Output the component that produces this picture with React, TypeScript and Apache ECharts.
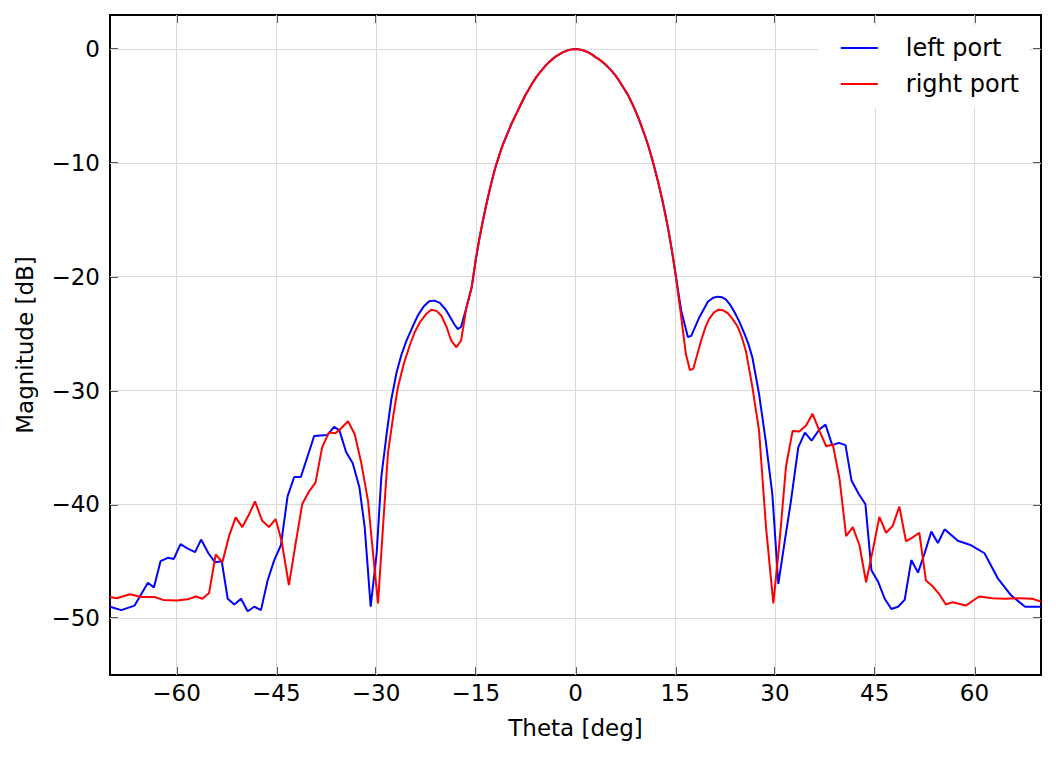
import React, { useEffect, useRef } from "react";
import * as echarts from "echarts";

const X_TICKS = [-60, -45, -30, -15, 0, 15, 30, 45, 60];
const Y_TICKS = [-50, -40, -30, -20, -10, 0];

// Main lobe (shared by both ports)
const MAIN_THETA = [
  -15, -14.5, -14, -13.5, -13, -12.5, -12, -11.5, -11, -10.5, -10, -9.5, -9, -8.5, -8, -7.5, -7, -6.5, -6, -5.5,
  -5, -4.5, -4, -3.5, -3, -2.5, -2, -1.5, -1, -0.5, 0, 0.5, 1, 1.5, 2, 2.5, 3, 3.5, 4, 4.5, 5, 5.5, 6, 6.5, 7,
  7.5, 8, 8.5, 9, 9.5, 10, 10.5, 11, 11.5, 12, 12.5, 13, 13.5, 14, 14.5, 15,
];
const MAIN_DB = [
  -18.5, -16.8, -15.3, -13.9, -12.6, -11.4, -10.3, -9.4, -8.5, -7.8, -7.1, -6.4, -5.8, -5.2, -4.6, -4.0, -3.5, -3.0,
  -2.55, -2.15, -1.8, -1.45, -1.15, -0.9, -0.65, -0.48, -0.3, -0.18, -0.08, -0.02, 0, -0.02, -0.08, -0.18, -0.3,
  -0.48, -0.7, -0.88, -1.1, -1.35, -1.65, -1.95, -2.3, -2.72, -3.2, -3.65, -4.15, -4.75, -5.4, -6.1, -6.9, -7.7,
  -8.6, -9.6, -10.7, -11.85, -13.1, -14.5, -16.0, -17.7, -19.6,
];

// left port side lobes (theta < -15 and theta > 15)
const LEFT_THETA_NEG = [
  -70, -68.3, -66.3, -64.3, -63.4, -62.4, -61.3, -60.4, -59.4, -58.3, -57.2, -56.3, -55.2, -54.2, -53.2,
  -52.3, -51.3, -50.3, -49.3, -48.3, -47.3, -46.3, -45.3, -44.3, -43.3, -42.3, -41.3, -39.3, -37.3, -36.3,
  -35.5, -34.5, -33.5, -32.5, -31.7, -30.8, -29.9, -29.2, -28.4, -27.7, -26.9, -26.2, -25.4, -24.5, -23.7,
  -22.8, -22.0, -21.2, -20.4, -19.5, -18.7, -18.2, -17.7, -17.2, -16.4, -15.6,
];
const LEFT_DB_NEG = [
  -49.0, -49.3, -48.9, -46.9, -47.3, -45.0, -44.7, -44.8, -43.5, -43.9, -44.2, -43.1, -44.3, -45.1, -45.0,
  -48.3, -48.8, -48.3, -49.4, -49.0, -49.3, -46.7, -44.9, -43.6, -39.3, -37.6, -37.6, -34.0, -33.9, -33.2,
  -33.5, -35.4, -36.4, -38.5, -42.0, -49.0, -44.3, -37.6, -33.8, -30.8, -28.4, -26.9, -25.6, -24.4, -23.4,
  -22.6, -22.15, -22.1, -22.3, -22.9, -23.7, -24.2, -24.6, -24.4, -22.7, -20.9,
];
const LEFT_THETA_POS = [
  15.9, 16.9, 17.4, 18.6, 19.9, 20.7, 21.4, 22.0, 22.6, 23.3, 23.9, 24.6, 25.4, 26.0, 26.6, 27.6, 28.6,
  29.6, 30.5, 31.4, 32.4, 33.5, 34.5, 35.5, 36.7, 37.6, 38.6, 39.6, 40.6, 41.5, 42.6, 43.6, 44.5, 45.5,
  46.5, 47.5, 48.5, 49.5, 50.5, 51.5, 52.5, 53.5, 54.5, 55.5, 56.5, 57.5, 59.5, 61.5, 63.5, 65.5, 67.6, 70,
];
const LEFT_DB_POS = [
  -23.0, -25.3, -25.2, -23.6, -22.2, -21.85, -21.75, -21.8, -22.0, -22.5, -23.1, -23.9, -25.0, -25.9, -27.1, -30.3, -34.4,
  -39.1, -47.0, -43.5, -39.7, -35.0, -33.7, -34.4, -33.4, -33.0, -34.8, -34.6, -34.8, -37.9, -39.1, -40.0, -45.8, -46.8,
  -48.3, -49.2, -49.0, -48.4, -44.9, -46.0, -44.3, -42.4, -43.4, -42.2, -42.7, -43.2, -43.6, -44.3, -46.5, -48.0, -49.0, -49.0,
];

// right port side lobes
const RIGHT_THETA_NEG = [
  -70, -69, -67, -65.3, -63.3, -62, -60, -58.3, -57.1, -56.1, -55.1, -54.1, -53.1, -52.1, -51.1, -50.1,
  -49.1, -48.2, -47.1, -46.1, -45.1, -44.2, -43.1, -42.1, -41.1, -40.1, -39.1, -38.1, -37.1, -36.1, -35.2,
  -34.2, -33.2, -32.2, -31.2, -30.45, -29.7, -28.95, -28.2, -27.4, -26.7, -25.8, -24.9, -24.2, -23.4, -22.5,
  -21.7, -20.9, -20.2, -19.4, -18.7, -17.9, -17.2, -16.4, -15.6,
];
const RIGHT_DB_NEG = [
  -48.15, -48.25, -47.9, -48.15, -48.15, -48.4, -48.45, -48.35, -48.1, -48.3, -47.8, -44.4, -45.1, -42.8, -41.15, -42.0,
  -40.9, -39.75, -41.45, -42.0, -41.3, -43.2, -47.1, -43.5, -40.0, -38.9, -38.1, -35.0, -33.7, -33.75, -33.3,
  -32.7, -33.85, -36.4, -39.7, -44.3, -48.7, -42.0, -35.5, -32.2, -29.7, -27.6, -26.0, -24.9, -24.0, -23.3,
  -22.9, -23.0, -23.4, -24.4, -25.6, -26.2, -25.6, -22.7, -20.9,
];
const RIGHT_THETA_POS = [
  15.9, 16.6, 17.2, 17.7, 18.9, 19.5, 20.1, 20.8, 21.5, 22.2, 22.9, 23.6, 24.4, 25.0, 25.65, 26.6, 27.6,
  28.65, 29.75, 30.65, 31.65, 32.65, 33.65, 34.65, 35.65, 36.65, 37.7, 38.7, 39.7, 40.7, 41.7, 42.7, 43.7,
  44.7, 45.7, 46.7, 47.7, 48.7, 49.7, 50.7, 51.7, 52.7, 53.7, 54.7, 55.7, 56.7, 58.7, 59.7, 60.7, 62.7,
  64.7, 66.7, 68.7, 70,
];
const RIGHT_DB_POS = [
  -23.55, -26.8, -28.2, -28.1, -25.6, -24.5, -23.7, -23.15, -22.9, -22.95, -23.2, -23.7, -24.4, -25.3, -26.6, -29.7, -33.5,
  -42.0, -48.7, -43.5, -36.7, -33.55, -33.6, -33.1, -32.05, -33.5, -34.9, -34.75, -37.75, -42.8, -42.0, -43.6, -46.85,
  -44.05, -41.1, -42.5, -41.9, -40.2, -43.25, -42.9, -42.5, -46.7, -47.2, -47.9, -48.8, -48.6, -48.9, -48.5, -48.1, -48.25,
  -48.3, -48.25, -48.3, -48.55,
];

const FONT = "DejaVu Sans";
const fmt = (v: number) => (v < 0 ? "\u2212" + Math.abs(v) : String(v));
const pairs = (t: number[], d: number[]) => t.map((x, i) => [x, d[i]]);

export default function App() {
  const ref = useRef<HTMLDivElement>(null);
  useEffect(() => {
    const chart = echarts.init(ref.current as HTMLDivElement, null, { renderer: "svg" });
    const tickStyle = { show: true, inside: true, length: 8, lineStyle: { color: "#222", width: 1.5 } };
    const axisLine = { show: true, onZero: false, lineStyle: { color: "#000", width: 2 } };
    const leftData = [
      ...pairs(LEFT_THETA_NEG, LEFT_DB_NEG),
      ...pairs(MAIN_THETA, MAIN_DB),
      ...pairs(LEFT_THETA_POS, LEFT_DB_POS),
    ];
    const rightData = [
      ...pairs(RIGHT_THETA_NEG, RIGHT_DB_NEG),
      ...pairs(MAIN_THETA, MAIN_DB),
      ...pairs(RIGHT_THETA_POS, RIGHT_DB_POS),
    ];
    chart.setOption({
      animation: false,
      backgroundColor: "#ffffff",
      textStyle: { fontFamily: FONT },
      grid: { left: 110, right: 15, top: 15, bottom: 83, containLabel: false },
      legend: {
        data: ["left port", "right port"],
        orient: "vertical",
        right: 27,
        top: 25,
        z: 10,
        icon: "rect",
        itemWidth: 37,
        itemHeight: 2,
        itemGap: 12,
        padding: [11, 10, 12, 22],
        backgroundColor: "#ffffff",
        textStyle: { fontFamily: FONT, fontSize: 24, color: "#000", padding: [0, 0, 0, 23] },
      },
      xAxis: [
        {
          type: "value",
          min: -70,
          max: 70,
          position: "bottom",
          axisLine,
          axisTick: { ...tickStyle, customValues: X_TICKS },
          axisLabel: { customValues: X_TICKS, formatter: fmt, fontFamily: FONT, fontSize: 23, color: "#000", margin: 6 },
          splitLine: { show: false },
          name: "Theta [deg]",
          nameLocation: "middle",
          nameGap: 41,
          nameTextStyle: { fontFamily: FONT, fontSize: 23, color: "#000" },
        },
        {
          type: "value",
          min: -70,
          max: 70,
          position: "top",
          axisLine,
          axisTick: { ...tickStyle, customValues: X_TICKS },
          axisLabel: { show: false },
          splitLine: { show: false },
        },
      ],
      yAxis: [
        {
          type: "value",
          min: -55,
          max: 3,
          position: "left",
          axisLine,
          axisTick: { ...tickStyle, customValues: Y_TICKS },
          axisLabel: { customValues: Y_TICKS, formatter: fmt, fontFamily: FONT, fontSize: 23, color: "#000", margin: 10 },
          splitLine: { show: false },
          name: "Magnitude [dB]",
          nameLocation: "middle",
          nameGap: 74,
          nameTextStyle: { fontFamily: FONT, fontSize: 23, color: "#000" },
        },
        {
          type: "value",
          min: -55,
          max: 3,
          position: "right",
          axisLine,
          axisTick: { ...tickStyle, customValues: Y_TICKS },
          axisLabel: { show: false },
          splitLine: { show: false },
        },
      ],
      series: [
        {
          name: "grid",
          type: "line",
          data: [],
          silent: true,
          z: 1,
          markLine: {
            silent: true,
            z: 1,
            symbol: ["none", "none"],
            label: { show: false },
            emphasis: { disabled: true },
            lineStyle: { color: "#d9d9d9", width: 1, type: "solid" },
            data: [
              ...X_TICKS.map((v) => ({ xAxis: v })),
              ...Y_TICKS.map((v) => ({ yAxis: v })),
            ],
          },
        },
        {
          name: "left port",
          type: "line",
          data: leftData,
          showSymbol: false,
          symbol: "none",
          z: 3,
          lineStyle: { color: "#0000ff", width: 2 },
          itemStyle: { color: "#0000ff" },
        },
        {
          name: "right port",
          type: "line",
          data: rightData,
          showSymbol: false,
          symbol: "none",
          z: 4,
          lineStyle: { color: "#ff0000", width: 2 },
          itemStyle: { color: "#ff0000" },
        },
      ],
    });
    return () => chart.dispose();
  }, []);
  return (
    <div
      ref={ref}
      style={{ position: "fixed", left: 0, top: 0, width: 1056, height: 758, background: "#fff" }}
    />
  );
}
